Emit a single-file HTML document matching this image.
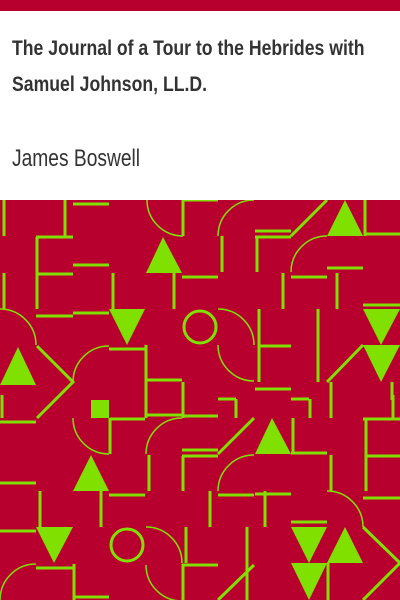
<!DOCTYPE html>
<html><head><meta charset="utf-8"><style>
html,body{margin:0;padding:0;background:#fff;}
#c{position:relative;width:400px;height:600px;overflow:hidden;background:#fff;}
.t{position:absolute;left:12px;font-family:"Liberation Sans",sans-serif;color:#333;transform-origin:0 0;white-space:nowrap;}
</style></head><body>
<div id="c">
<div style="position:absolute;left:0;top:0;width:400px;height:11px;background:#b8002e"></div>
<div class="t" style="top:31px;font-size:21px;font-weight:bold;line-height:36px;transform:scaleX(0.84);">The Journal of a Tour to the Hebrides with<br>Samuel Johnson, LL.D.</div>
<div class="t" style="top:145px;font-size:24px;transform:scaleX(0.8);">James Boswell</div>
<svg style="position:absolute;left:0;top:200px" width="400" height="400" viewBox="0 200 400 400">
<rect x="0" y="200" width="400" height="400" fill="#b8002e"/>
<g stroke="#80e000" stroke-width="3" fill="none">
<path d="M4 200V236M4 273V309M65 200V236M73 204H109M36 237H73M37 237V309M37 274H73M73 265H109M36 316H73M73 313H109M113 273V309M183 200V236M183 200H200M174 273V309M182 277H200
M37 346L73 382L37 418M109 349H145M146 345V400M146 380H182M183 382V400
M200 200H218M222 236V272M255 231H291M255 237H291M257 237V272M291 236L327 200M365 200V236M365 234H400M327 268H363M337 273V309M291 277H327M283 273V309M200 277H218M363 305H400M327 382L363 345M331 382V400M392 382V400M318 309V382M259 309V382M259 346H291M255 389H291
M2 395V418M0 422H36M110 418V454M110 419H145M145 415H182M146 395V418M183 395V418M182 416H200M149 455V491M182 450H200M182 456H200M183 456V491M0 483H36M101 491V527M109 495H145M40 491V527M0 531H36M36 568H73M74 564V600M73 597H109M186 527V563M182 565H200M183 564V600
M218 399H236M236 399V418M291 399H309M310 399V418M331 395V418M393 395V418M200 416H218M218 454L254 418M200 450H218M200 456H218M293 418V454M291 453H327M363 419H400M366 419V491M366 456H400M363 498H400M255 494H291M218 495H254M265 491V527M210 491V527M331 455V491M291 522H327M328 563V600M363 527L400 563L363 600M247 527V600M200 565H218M254 565L218 600"/>
</g>
<g stroke="#80e000" stroke-width="1.5" fill="none">
<path d="M147 200A36 36 0 0 0 183 236M0 309A36 36 0 0 1 36 345M73 382A36 36 0 0 1 109 346M218 236A36 36 0 0 1 254 200M291 272A36 36 0 0 1 327 236M218 309A36 36 0 0 1 254 345M218 345A36 36 0 0 0 254 381
M73 418A36 36 0 0 0 109 454M146 454A36 36 0 0 1 182 418M0 600A36 36 0 0 1 36 564M146 527A36 36 0 0 1 182 563M146 565A36 36 0 0 0 182 601M218 491A36 36 0 0 1 254 455M327 491A36 36 0 0 1 363 527"/>
</g>
<g stroke="#80e000" stroke-width="3" fill="none">
<circle cx="200" cy="327" r="16"/><circle cx="127" cy="545" r="16"/>
</g>
<g fill="#80e000">
<polygon points="163,237 146,273 182,273"/>
<polygon points="18,347 0,385 36,385"/>
<polygon points="109,309 145,309 127,345"/>
<polygon points="345,200 327,236 363,236"/>
<polygon points="363,309 400,309 381,345"/>
<polygon points="363,345 400,345 381,382"/>
<rect x="91" y="400" width="18" height="18"/>
<polygon points="91,455 73,491 109,491"/>
<polygon points="36,527 73,527 54,563"/>
<polygon points="272,418 255,454 291,454"/>
<polygon points="291,527 327,527 309,563"/>
<polygon points="291,563 327,563 309,600"/>
<polygon points="345,527 327,563 363,563"/>
</g>
</svg>
</div>
</body></html>
